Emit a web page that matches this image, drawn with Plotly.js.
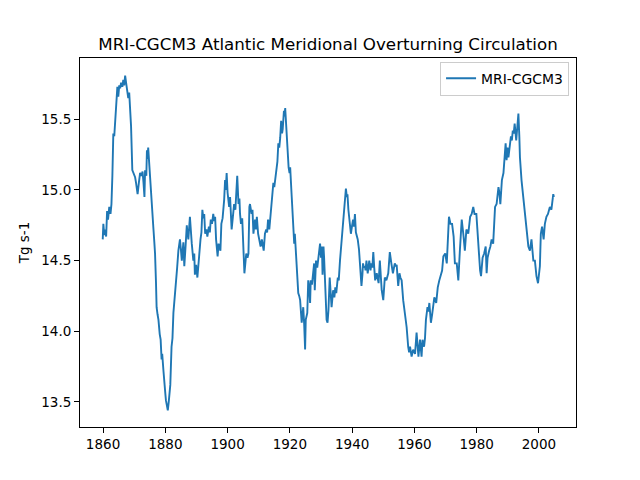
<!DOCTYPE html>
<html>
<head>
<meta charset="utf-8">
<script src="https://cdn.plot.ly/plotly-3.0.1.min.js"></script>
<style>html,body{margin:0;padding:0;background:#fff;}#chart{width:640px;height:480px;}</style>
</head>
<body>
<div id="chart"></div>
<script>
// Time (decimal years) and AMOC strength (Tg s-1)
const years = [
1859.9,1860.1,1860.4,1860.7,1861.0,1861.3,1861.6,1862.0,1862.4,1862.7,
1863.0,1863.3,1863.6,1863.9,1864.2,1864.4,1864.6,1864.9,1865.2,1865.5,
1865.8,1866.2,1866.5,1866.8,1867.1,1867.4,1867.7,1868.1,1868.4,1868.6,
1869.0,1869.4,1869.8,1870.3,1870.6,1871.1,1871.5,1871.9,1872.3,1872.7,
1873.0,1873.3,1873.5,1873.9,1874.1,1874.3,1874.5,1874.7,1874.9,1875.2,
1875.6,1875.9,1876.2,1876.5,1876.7,1877.0,1877.2,1877.5,1877.8,1878.2,
1878.5,1878.8,1879.0,1879.4,1879.7,1880.0,1880.2,1880.5,1880.8,1881.1,
1881.3,1881.6,1882.0,1882.3,1882.6,1883.0,1883.4,1883.8,1884.2,1884.7,
1885.0,1885.3,1885.8,1886.1,1886.5,1886.9,1887.1,1887.4,1887.9,1888.2,
1888.5,1889.0,1889.3,1889.5,1889.9,1890.3,1890.6,1890.9,1891.3,1891.6,
1891.9,1892.2,1892.5,1892.8,1893.2,1893.5,1894.0,1894.3,1894.6,1895.0,
1895.4,1895.7,1896.0,1896.3,1896.8,1897.1,1897.4,1897.7,1898.0,1898.4,
1898.9,1899.2,1899.4,1899.7,1900.0,1900.5,1900.8,1901.0,1901.3,1901.7,
1902.1,1902.5,1902.9,1903.1,1903.5,1903.8,1904.0,1904.3,1904.7,1905.0,
1905.4,1905.7,1906.0,1906.4,1906.7,1907.0,1907.2,1907.7,1908.0,1908.3,
1908.8,1909.1,1909.4,1909.8,1910.2,1910.6,1911.0,1911.3,1911.6,1912.0,
1912.4,1912.7,1913.0,1913.4,1913.8,1914.2,1914.7,1915.0,1915.3,1915.8,
1916.0,1916.3,1916.6,1916.9,1917.2,1917.5,1917.7,1918.1,1918.3,1918.5,
1918.8,1919.0,1919.3,1919.6,1919.9,1920.1,1920.6,1920.9,1921.1,1921.4,
1921.6,1922.0,1922.4,1922.7,1923.0,1923.3,1923.8,1924.0,1924.3,1924.6,
1924.9,1925.1,1925.6,1925.9,1926.2,1926.5,1926.7,1927.1,1927.5,1927.8,
1928.0,1928.4,1928.8,1929.1,1929.4,1929.7,1930.0,1930.3,1930.5,1930.8,
1931.0,1931.3,1931.6,1931.8,1932.1,1932.4,1932.8,1933.1,1933.4,1933.9,
1934.3,1934.6,1934.9,1935.4,1935.7,1936.1,1936.6,1936.9,1937.2,1937.7,
1938.0,1938.3,1938.5,1938.8,1939.1,1939.3,1939.6,1940.0,1940.3,1940.6,
1940.9,1941.2,1941.5,1941.8,1942.2,1942.5,1943.0,1943.3,1943.5,1943.8,
1944.1,1944.3,1944.6,1945.0,1945.2,1945.5,1945.9,1946.2,1946.5,1946.8,
1947.1,1947.4,1947.9,1948.2,1948.5,1948.9,1949.2,1949.5,1950.0,1950.3,
1950.5,1951.0,1951.3,1951.6,1952.1,1952.4,1952.6,1953.1,1953.4,1953.7,
1954.0,1954.3,1954.8,1955.2,1955.5,1955.9,1956.4,1957.0,1957.5,1958.0,
1958.3,1958.6,1959.1,1959.6,1960.2,1960.7,1961.0,1961.3,1961.8,1962.3,
1962.6,1963.1,1963.4,1963.7,1964.2,1964.5,1964.8,1965.3,1965.7,1965.9,
1966.4,1967.0,1967.5,1968.0,1968.6,1968.9,1969.3,1969.9,1970.4,1970.7,
1971.1,1971.6,1972.1,1972.6,1973.0,1973.6,1974.1,1974.6,1975.2,1975.7,
1976.2,1976.7,1977.3,1977.9,1978.4,1978.9,1979.3,1979.9,1980.4,1981.1,
1981.4,1981.9,1982.4,1982.9,1983.2,1983.5,1984.0,1984.4,1984.8,1985.3,
1985.9,1986.4,1987.0,1987.3,1987.6,1988.1,1988.6,1989.3,1989.6,1989.9,
1990.2,1991.0,1991.3,1991.6,1991.9,1992.2,1992.7,1993.4,1993.7,1993.9,
1994.4,1994.8,1995.5,1996.0,1996.6,1997.1,1997.6,1998.2,1998.7,1999.2,
1999.7,2000.3,2000.6,2001.0,2001.5,2001.9,2002.4,2002.9,2003.5,2004.0,
2004.6,2004.8
];
const amoc = [
14.65,14.76,14.68,14.72,14.67,14.85,14.79,14.88,14.83,14.90,
15.10,15.40,15.38,15.47,15.55,15.68,15.73,15.66,15.74,15.72,
15.76,15.73,15.78,15.74,15.81,15.76,15.72,15.65,15.69,15.62,
15.45,15.14,15.12,15.09,15.05,14.97,15.05,15.12,15.10,15.13,
15.05,14.95,15.14,15.10,15.28,15.22,15.30,15.24,15.14,15.04,
14.97,14.85,14.72,14.62,14.55,14.35,14.17,14.12,14.08,13.98,
13.94,13.80,13.84,13.72,13.66,13.56,13.51,13.47,13.44,13.50,
13.58,13.62,13.89,13.95,14.13,14.22,14.36,14.45,14.57,14.65,
14.58,14.50,14.63,14.46,14.60,14.75,14.70,14.65,14.81,14.70,
14.62,14.50,14.55,14.40,14.47,14.38,14.48,14.52,14.65,14.70,
14.86,14.80,14.83,14.69,14.72,14.67,14.74,14.70,14.79,14.76,
14.83,14.78,14.81,14.65,14.53,14.62,14.60,14.57,14.76,14.80,
14.93,15.07,15.00,15.12,14.98,14.88,14.95,14.85,14.72,14.81,
14.90,14.86,15.07,15.10,14.90,14.94,14.83,14.76,14.80,14.65,
14.41,14.48,14.55,14.52,14.55,14.88,14.90,14.83,14.86,14.69,
14.79,14.72,14.81,14.69,14.64,14.60,14.65,14.62,14.57,14.69,
14.72,14.70,14.79,14.72,14.81,14.95,15.05,15.02,15.07,15.16,
15.20,15.33,15.30,15.37,15.49,15.40,15.43,15.56,15.52,15.58,
15.45,15.35,15.21,15.16,15.12,15.16,14.95,14.80,14.69,14.62,
14.69,14.55,14.40,14.27,14.25,14.22,14.06,14.10,14.17,14.05,
13.87,14.08,14.13,14.36,14.31,14.20,14.36,14.33,14.42,14.48,
14.29,14.50,14.45,14.52,14.55,14.62,14.52,14.60,14.40,14.60,
14.52,14.36,14.20,14.08,14.06,14.15,14.38,14.25,14.17,14.29,
14.24,14.31,14.27,14.38,14.36,14.50,14.65,14.72,14.83,14.93,
15.01,14.95,14.97,14.86,14.78,14.76,14.69,14.75,14.79,14.74,
14.83,14.70,14.67,14.65,14.58,14.50,14.32,14.40,14.48,14.45,
14.46,14.43,14.50,14.41,14.46,14.50,14.43,14.48,14.45,14.56,
14.45,14.36,14.41,14.38,14.34,14.50,14.40,14.29,14.22,14.30,
14.38,14.36,14.39,14.41,14.56,14.50,14.48,14.41,14.45,14.48,
14.46,14.47,14.32,14.41,14.38,14.36,14.22,14.13,14.03,13.89,
13.85,13.89,13.82,13.87,13.84,13.99,13.90,13.82,13.94,13.82,
13.94,13.89,13.95,14.08,14.17,14.14,14.20,14.06,14.12,14.17,
14.24,14.20,14.31,14.36,14.41,14.43,14.53,14.55,14.48,14.65,
14.81,14.76,14.76,14.67,14.48,14.48,14.36,14.57,14.79,14.69,
14.57,14.72,14.69,14.81,14.83,14.88,14.83,14.83,14.65,14.43,
14.39,14.52,14.55,14.60,14.41,14.52,14.57,14.60,14.65,14.62,
14.88,14.90,15.02,14.98,14.90,15.07,15.12,15.33,15.21,15.30,
15.23,15.38,15.35,15.42,15.40,15.47,15.35,15.54,15.38,15.23,
15.07,14.98,14.86,14.76,14.60,14.57,14.65,14.50,14.50,14.39,
14.34,14.46,14.69,14.74,14.65,14.76,14.81,14.83,14.88,14.86,
14.97,14.95
];
const seriesName = "MRI-CGCM3";
const xTicks = [1860,1880,1900,1920,1940,1960,1980,2000];
const yTicks = [13.5,14.0,14.5,15.0,15.5];
const yTickText = ["13.5","14.0","14.5","15.0","15.5"];

const trace = {
  x: years, y: amoc, type: 'scatter', mode: 'lines', name: seriesName,
  line: {color: '#1f77b4', width: 1.9}, showlegend: true
};
const font = "DejaVu Sans, sans-serif";
const axisCommon = {
  showgrid: false, zeroline: false, showline: true, mirror: true,
  linecolor: '#000', linewidth: 1, ticks: 'outside', ticklen: 5,
  tickwidth: 1, tickcolor: '#000', tickfont: {family: font, size: 13.5, color: '#000'}
};
const layout = {
  width: 640, height: 480,
  margin: {l: 80, r: 64, t: 58, b: 53},
  paper_bgcolor: '#fff', plot_bgcolor: '#fff',
  title: {text: 'MRI-CGCM3 Atlantic Meridional Overturning Circulation',
    font: {family: font, size: 16.7, color: '#000'},
    x: 0.5, xref: 'paper', y: 1 - 44/480, yref: 'container', yanchor: 'middle'},
  xaxis: Object.assign({}, axisCommon, {range: [1852.6, 2011.9], tickvals: xTicks, ticktext: xTicks.map(String)}),
  yaxis: Object.assign({}, axisCommon, {range: [13.322, 15.934], tickvals: yTicks, ticktext: yTickText,
    title: {text: 'Tg s-1', font: {family: font, size: 13.5, color: '#000'}, standoff: 8}}),
  legend: {x: 0.986, y: 0.99, xanchor: 'right', yanchor: 'top',
    bgcolor: 'rgba(255,255,255,0.8)', bordercolor: '#cccccc', borderwidth: 1,
    font: {family: font, size: 13.9, color: '#000'}},
  showlegend: true
};
Plotly.newPlot('chart', [trace], layout, {displayModeBar: false, staticPlot: true});
</script>
</body>
</html>
